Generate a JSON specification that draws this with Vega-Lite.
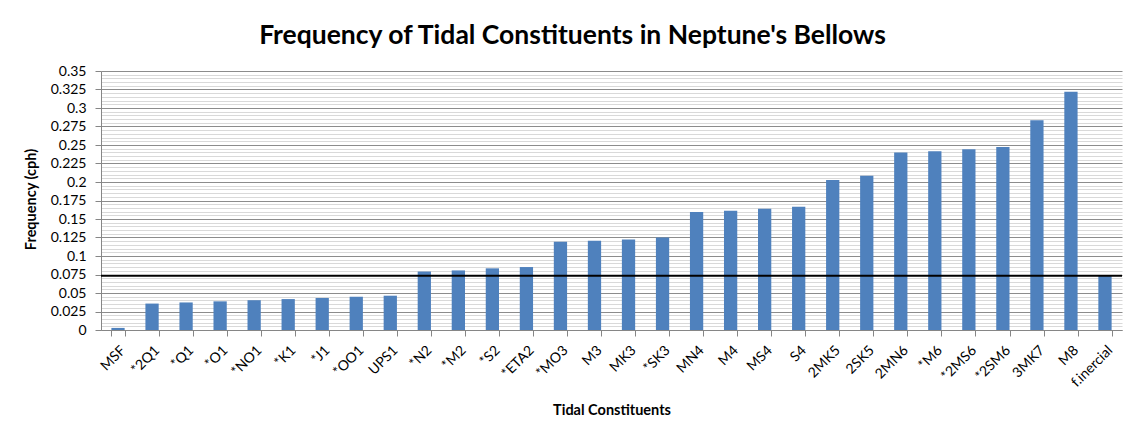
{
  "$schema": "https://vega.github.io/schema/vega-lite/v6.json",
  "width": 1021,
  "height": 259,
  "autosize": "none",
  "padding": {"left": 101, "top": 71, "right": 10, "bottom": 105},
  "background": "white",
  "title": {
    "text": "Frequency of Tidal Constituents in Neptune's Bellows",
    "font": "Lato",
    "fontSize": 26.5,
    "fontWeight": "bold",
    "color": "black",
    "anchor": "middle",
    "dx": -39,
    "dy": 12,
    "baseline": "alphabetic",
    "offset": 6
  },
  "data": {
    "values": [
      {"constituent": "MSF", "frequency": 0.0028219},
      {"constituent": "*2Q1", "frequency": 0.0357064},
      {"constituent": "*Q1", "frequency": 0.0372185},
      {"constituent": "*O1", "frequency": 0.0387307},
      {"constituent": "*NO1", "frequency": 0.0402686},
      {"constituent": "*K1", "frequency": 0.0417807},
      {"constituent": "*J1", "frequency": 0.0432929},
      {"constituent": "*OO1", "frequency": 0.0448308},
      {"constituent": "UPS1", "frequency": 0.046343},
      {"constituent": "*N2", "frequency": 0.0789992},
      {"constituent": "*M2", "frequency": 0.0805114},
      {"constituent": "*S2", "frequency": 0.0833333},
      {"constituent": "*ETA2", "frequency": 0.0850736},
      {"constituent": "*MO3", "frequency": 0.1192421},
      {"constituent": "M3", "frequency": 0.1207671},
      {"constituent": "MK3", "frequency": 0.1222921},
      {"constituent": "*SK3", "frequency": 0.1251141},
      {"constituent": "MN4", "frequency": 0.1595106},
      {"constituent": "M4", "frequency": 0.1610228},
      {"constituent": "MS4", "frequency": 0.1638447},
      {"constituent": "S4", "frequency": 0.1666667},
      {"constituent": "2MK5", "frequency": 0.2028035},
      {"constituent": "2SK5", "frequency": 0.2084474},
      {"constituent": "2MN6", "frequency": 0.2400221},
      {"constituent": "*M6", "frequency": 0.2415342},
      {"constituent": "*2MS6", "frequency": 0.2443561},
      {"constituent": "*2SM6", "frequency": 0.2471781},
      {"constituent": "3MK7", "frequency": 0.2833149},
      {"constituent": "M8", "frequency": 0.3220456},
      {"constituent": "f.inercial", "frequency": 0.0734}
    ]
  },
  "layer": [
    {
      "mark": {"type": "bar", "color": "#4F81BD"},
      "encoding": {
        "x": {
          "field": "constituent",
          "type": "nominal",
          "sort": null,
          "scale": {"paddingInner": 0.61, "paddingOuter": 0.305},
          "axis": {
            "title": "Tidal Constituents",
            "titleFont": "Lato",
            "titleFontSize": 14.5,
            "titleFontWeight": "bold",
            "titleColor": "black",
            "titleBaseline": "alphabetic",
            "titleY": 84,
            "labelAngle": -45,
            "labelFont": "Lato",
            "labelFontSize": 14,
            "labelColor": "black",
            "labelPadding": 7,
            "labelOverlap": false,
            "tickBand": "extent",
            "tickSize": 6,
            "tickColor": "#868686",
            "domainColor": "#868686",
            "grid": false
          }
        },
        "y": {
          "field": "frequency",
          "type": "quantitative",
          "scale": {"domain": [0, 0.35], "nice": false, "zero": true},
          "axis": {
            "orient": "left",
            "title": "Frequency (cph)",
            "titleFont": "Lato",
            "titleFontSize": 14.5,
            "titleFontWeight": "bold",
            "titleColor": "black",
            "titleAngle": -90,
            "titleX": -70,
            "titleY": 128,
            "titleAlign": "center",
            "titleBaseline": "middle",
            "values": [0, 0.025, 0.05, 0.075, 0.1, 0.125, 0.15, 0.175, 0.2, 0.225, 0.25, 0.275, 0.3, 0.325, 0.35],
            "labelExpr": "'' + datum.value",
            "labelFont": "Lato",
            "labelFontSize": 14,
            "labelColor": "black",
            "labelPadding": 9,
            "labelOverlap": false,
            "labelFlush": false,
            "grid": true,
            "gridColor": "#8c8c8c",
            "gridOpacity": 1,
            "zindex": 0,
            "tickSize": 6,
            "tickColor": "#868686",
            "domainColor": "#868686"
          }
        }
      }
    },
    {
      "transform": [{"filter": "datum.constituent == 'f.inercial'"}],
      "mark": {"type": "rule", "color": "black", "strokeWidth": 2},
      "encoding": {
        "y": {
          "field": "frequency",
          "type": "quantitative",
          "axis": {
            "orient": "right",
            "title": null,
            "values": [0.005, 0.01, 0.015, 0.02, 0.03, 0.035, 0.04, 0.045, 0.055, 0.06, 0.065, 0.07, 0.08, 0.085, 0.09, 0.095, 0.105, 0.11, 0.115, 0.12, 0.13, 0.135, 0.14, 0.145, 0.155, 0.16, 0.165, 0.17, 0.18, 0.185, 0.19, 0.195, 0.205, 0.21, 0.215, 0.22, 0.23, 0.235, 0.24, 0.245, 0.255, 0.26, 0.265, 0.27, 0.28, 0.285, 0.29, 0.295, 0.305, 0.31, 0.315, 0.32, 0.33, 0.335, 0.34, 0.345],
            "labels": false,
            "ticks": false,
            "domain": false,
            "grid": true,
            "gridColor": "#d9d9d9",
            "gridOpacity": 1
          }
        }
      }
    }
  ],
  "resolve": {"axis": {"y": "independent"}},
  "config": {"view": {"stroke": null}}
}
